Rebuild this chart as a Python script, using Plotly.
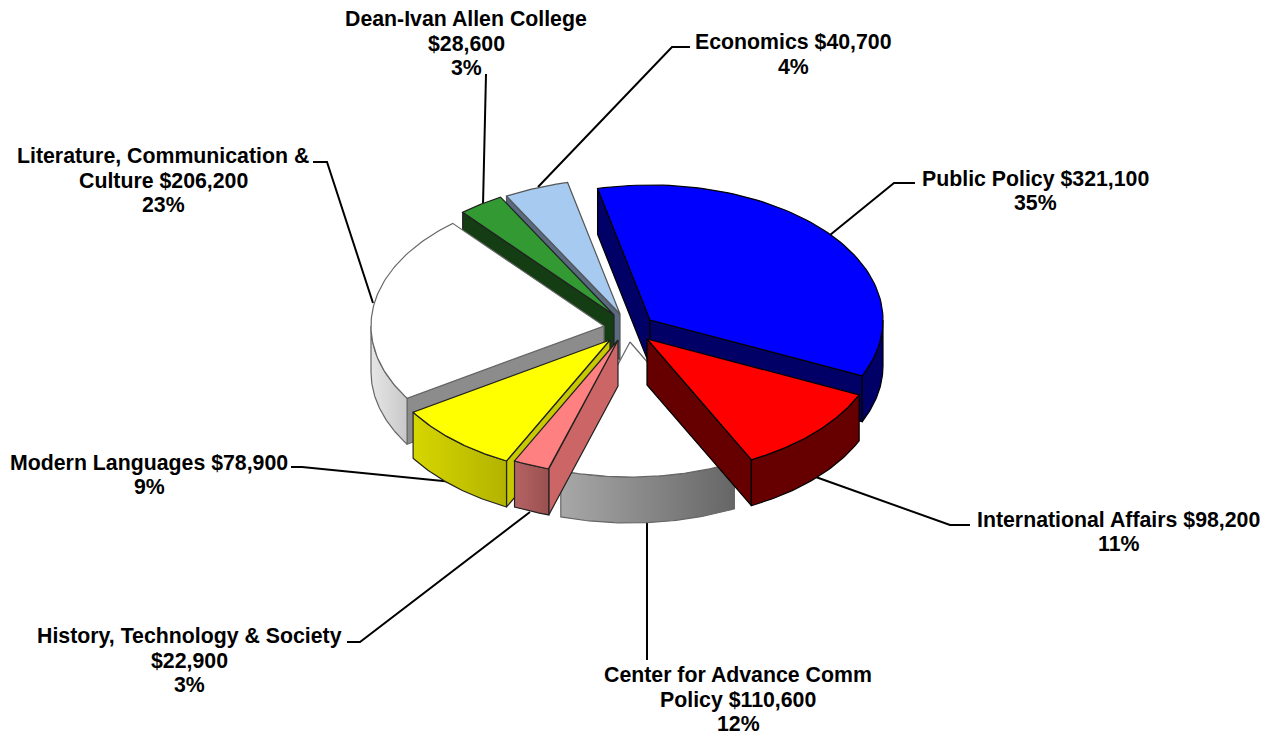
import numpy as np
import plotly.graph_objects as go

categories = ["Public Policy", "International Affairs", "Center for Advance Comm Policy",
              "History, Technology & Society", "Modern Languages",
              "Literature, Communication & Culture", "Dean-Ivan Allen College", "Economics"]
values = [321100, 98200, 110600, 22900, 78900, 206200, 28600, 40700]
percents = [35, 11, 12, 3, 9, 23, 3, 4]

# label line breaks as in the original, one template per slice
label_lines = [
    ["Public Policy {v}", "{p}"],
    ["International Affairs {v}", "{p}"],
    ["Center for Advance Comm", "Policy {v}", "{p}"],
    ["History, Technology & Society", "{v}", "{p}"],
    ["Modern Languages {v}", "{p}"],
    ["Literature, Communication &", "Culture {v}", "{p}"],
    ["Dean-Ivan Allen College", "{v}", "{p}"],
    ["Economics {v}", "{p}"],
]

# --- geometry / style (screen-pixel axes) ---
W, H = 1268, 734
RX, RY, DEPTH = 233, 135, 46
START = -13.0
CENTRE = (618, 330)
PULL_X = [32, 29, 12, 0, -8, -14, -4, 2]
PULL_Y = [-10, 9, 12, 10, 10, -4, -15, -16]

TOP = ["#0000ff", "#ff0000", "#ffffff", "#ff8080", "#ffff00", "#ffffff", "#339933", "#a6caf0"]
CUT = ["#000066", "#660000", "#808080", "#cc6666", "#c8c800", "#8c8c8c", "#143d14", "#5a6a80"]
WALL_L = ["#000066", "#660000", "#a8a8a8", "#b56363", "#d6d600", "#e6e6e6", "#143d14", "#5a6a80"]
WALL_R = ["#000066", "#660000", "#666666", "#9a5050", "#b3b300", "#c8c8c8", "#143d14", "#5a6a80"]
EDGE = ["#000000", "#000000", "#666666", "#222222", "#222222", "#666666", "#222222", "#555555"]
DRAW_ORDER = [7, 6, 0, 5, 2, 1, 4, 3]

# centre x and first-line y of each label
LABEL_POS = [(1035, 178.5), (1118.5, 519.5), (738, 675), (189.5, 636), (149, 462.5),
             (163, 156), (466, 19), (793, 42)]
LINE_STEP = 24.5
LEADERS = [
    [(915, 183), (894, 183), (830, 235)],
    [(970, 525), (950, 525), (813, 476)],
    [(647, 522), (647, 660)],
    [(347, 642), (360, 642), (530, 512)],
    [(291, 467), (302, 467), (453, 482)],
    [(313, 162), (327, 162), (373, 303)],
    [(486, 74), (483, 205)],
    [(690, 47), (672, 47), (538, 187)],
]

FONT = "Liberation Sans, Arial, sans-serif"
FONT_SIZE = 21.3


def rim(t_deg, apex):
    t = np.radians(t_deg)
    return apex[0] + RX * np.sin(t), apex[1] - RY * np.cos(t)


fig = go.Figure()


def poly(xs, ys, fill, edge, grad=None, width=1.2):
    kw = dict(x=list(xs) + [xs[0]], y=list(ys) + [ys[0]], mode="lines", fill="toself",
              line=dict(color=edge, width=width), hoverinfo="skip", showlegend=False)
    if grad:
        kw["fillgradient"] = dict(type="horizontal",
                                  colorscale=[[0, grad[0]], [1, grad[1]]])
    else:
        kw["fillcolor"] = fill
    fig.add_trace(go.Scatter(**kw))


total = sum(values)
edges = START + np.concatenate([[0], np.cumsum(values)]) / total * 360.0

for i in DRAW_ORDER:
    a, b = edges[i], edges[i + 1]
    apex = (CENTRE[0] + PULL_X[i], CENTRE[1] + PULL_Y[i])
    # cut faces that face the viewer
    for t, vis in ((a, np.sin(np.radians(a)) < 0), (b, np.sin(np.radians(b)) > 0)):
        if vis:
            rx, ry = rim(t, apex)
            poly([apex[0], rx, rx, apex[0]], [apex[1], ry, ry + DEPTH, apex[1] + DEPTH],
                 CUT[i], EDGE[i])
    # outer wall, front half only
    w0, w1 = max(a, 90.0), min(b, 270.0)
    if w1 > w0:
        ts = np.linspace(w0, w1, 50)
        rx, ry = rim(ts, apex)
        poly(list(rx) + list(rx[::-1]), list(ry) + list(ry[::-1] + DEPTH),
             None, EDGE[i], grad=(WALL_L[i], WALL_R[i]))
    # top
    ts = np.linspace(a, b, 80)
    rx, ry = rim(ts, apex)
    poly([apex[0]] + list(rx), [apex[1]] + list(ry), TOP[i], EDGE[i])

shapes = []
for pts in LEADERS:
    path = "M " + " L ".join(f"{x},{y}" for x, y in pts)
    shapes.append(dict(type="path", path=path, xref="x", yref="y", layer="below",
                       line=dict(color="#000000", width=2)))

annotations = []
for lines, v, p, (x, y0) in zip(label_lines, values, percents, LABEL_POS):
    for k, s in enumerate(lines):
        text = s.format(v=f"${v:,}", p=f"{p}%")
        annotations.append(dict(x=x, y=y0 + k * LINE_STEP, xref="x", yref="y",
                                text=f"<b>{text}</b>", showarrow=False, align="center",
                                xanchor="center", yanchor="middle",
                                font=dict(family=FONT, size=FONT_SIZE, color="#000000")))

fig.update_layout(
    width=W, height=H, margin=dict(l=0, r=0, t=0, b=0), autosize=False,
    paper_bgcolor="#ffffff", plot_bgcolor="#ffffff", showlegend=False,
    xaxis=dict(range=[0, W], visible=False, fixedrange=True),
    yaxis=dict(range=[H, 0], visible=False, fixedrange=True),
    shapes=shapes, annotations=annotations,
)
fig.write_html("out.html", config={"displayModeBar": False},
               post_script="document.body.style.margin='0';document.body.style.overflow='hidden';")
